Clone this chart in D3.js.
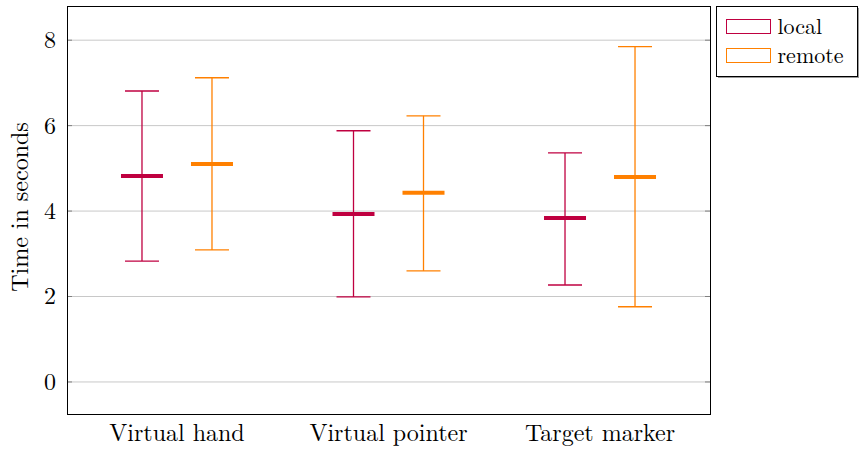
<!DOCTYPE html>
<html lang="en">
<head>
<meta charset="UTF-8">
<title>Time in seconds</title>
<script src="https://d3js.org/d3.v7.min.js"></script>
<style>
  body { margin: 0; background: #fff; }
</style>
</head>
<body>
<svg width="859" height="449"></svg>
<script>
// data
const techniques = ["Virtual hand", "Virtual pointer", "Target marker"];
const series = ["local", "remote"];
const localMin = [2.83, 1.99, 2.27];
const localMid = [4.82, 3.93, 3.84];
const localMax = [6.81, 5.88, 5.36];
const remoteMin = [3.09, 2.60, 1.76];
const remoteMid = [5.10, 4.43, 4.80];
const remoteMax = [7.12, 6.23, 7.85];
const yTicks = [0, 2, 4, 6, 8];

const colors = { local: "#bf0040", remote: "#ff8000" };
const font = "Latin Modern Roman, serif";
const fs = 24;

const svg = d3.select("svg");
const plotL = 67, plotR = 710, plotT = 6, plotB = 414;

const x = d3.scalePoint().domain(techniques).range([plotL, plotR]).padding(0.52);
const xs = d3.scalePoint().domain(series).range([-35, 35]);
const y = d3.scaleLinear().domain([-0.75, 8.8]).range([plotB, plotT]);

// grid lines
svg.append("g").selectAll("line")
  .data(yTicks).enter().append("line")
  .attr("x1", plotL).attr("x2", plotR)
  .attr("y1", d => y(d)).attr("y2", d => y(d))
  .attr("stroke", "#c8c8c8").attr("stroke-width", 1);

// tick marks inside on both sides
const tk = svg.append("g");
tk.selectAll(".tl").data(yTicks).enter().append("line")
  .attr("x1", plotL).attr("x2", plotL + 5)
  .attr("y1", d => y(d)).attr("y2", d => y(d))
  .attr("stroke", "#808080");
tk.selectAll(".tr").data(yTicks).enter().append("line")
  .attr("x1", plotR - 5).attr("x2", plotR)
  .attr("y1", d => y(d)).attr("y2", d => y(d))
  .attr("stroke", "#808080");

// tick labels
svg.append("g").selectAll("text")
  .data(yTicks).enter().append("text")
  .attr("x", plotL - 11).attr("y", d => y(d))
  .attr("dy", "0.33em").attr("text-anchor", "end")
  .attr("font-family", font).attr("font-size", fs)
  .text(d => d);

svg.append("g").selectAll("text")
  .data(techniques).enter().append("text")
  .attr("x", d => x(d)).attr("y", plotB + 27)
  .attr("text-anchor", "middle")
  .attr("font-family", font).attr("font-size", fs)
  .text(d => d);

svg.append("text")
  .attr("transform", `translate(28,${(plotT + plotB) / 2 - 3}) rotate(-90)`)
  .attr("text-anchor", "middle")
  .attr("font-family", font).attr("font-size", fs)
  .text("Time in seconds");

// boxes (whiskers + median)
const rows = [];
techniques.forEach((t, i) => {
  rows.push({ t, s: "local", lo: localMin[i], mid: localMid[i], hi: localMax[i] });
  rows.push({ t, s: "remote", lo: remoteMin[i], mid: remoteMid[i], hi: remoteMax[i] });
});

const g = svg.append("g").selectAll("g").data(rows).enter().append("g")
  .attr("transform", d => `translate(${x(d.t) + xs(d.s)},0)`);

g.append("line")
  .attr("y1", d => y(d.lo)).attr("y2", d => y(d.hi))
  .attr("stroke", d => colors[d.s]).attr("stroke-width", 1.3);
g.append("line")
  .attr("x1", -17).attr("x2", 17)
  .attr("y1", d => y(d.lo)).attr("y2", d => y(d.lo))
  .attr("stroke", d => colors[d.s]).attr("stroke-width", 1.3);
g.append("line")
  .attr("x1", -17).attr("x2", 17)
  .attr("y1", d => y(d.hi)).attr("y2", d => y(d.hi))
  .attr("stroke", d => colors[d.s]).attr("stroke-width", 1.3);
g.append("line")
  .attr("x1", -21).attr("x2", 21)
  .attr("y1", d => y(d.mid)).attr("y2", d => y(d.mid))
  .attr("stroke", d => colors[d.s]).attr("stroke-width", 4);

// frame
svg.append("rect")
  .attr("x", plotL + 0.5).attr("y", plotT + 0.5)
  .attr("width", plotR - plotL).attr("height", plotB - plotT)
  .attr("fill", "none").attr("stroke", "#000").attr("stroke-width", 1);

// legend
const lg = svg.append("g").attr("transform", "translate(716.5,6.5)");
lg.append("rect").attr("x", 1.5).attr("y", 1.5).attr("width", 141).attr("height", 70)
  .attr("fill", "#999");
lg.append("rect").attr("x", 0).attr("y", 0).attr("width", 141).attr("height", 70)
  .attr("fill", "#fff").attr("stroke", "#000");
const le = lg.selectAll("g").data(series).enter().append("g")
  .attr("transform", (d, i) => `translate(0,${20 + i * 29})`);
le.append("rect")
  .attr("x", 10).attr("y", -7).attr("width", 44).attr("height", 14)
  .attr("fill", "none").attr("stroke", d => colors[d]).attr("stroke-width", 1);
le.append("text")
  .attr("x", 61).attr("dy", "0.33em")
  .attr("font-family", font).attr("font-size", 22)
  .text(d => d);
</script>
</body>
</html>
